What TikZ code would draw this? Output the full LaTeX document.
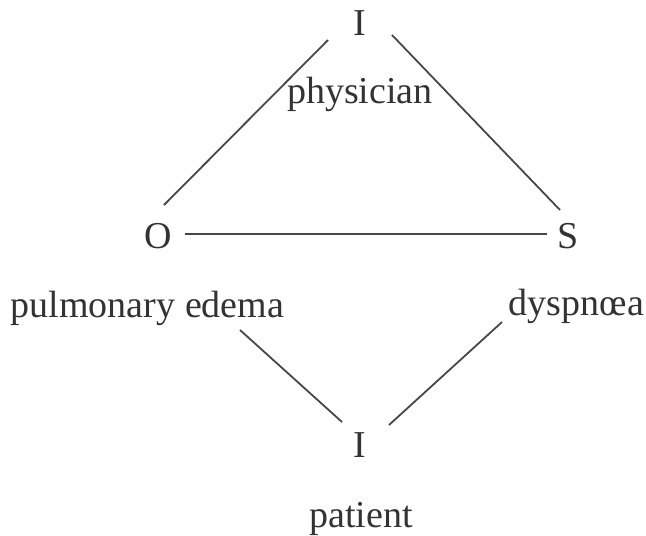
\documentclass[tikz,border=0pt]{standalone}
\usepackage{fontspec}
\setmainfont{Liberation Serif}

\begin{document}
\begin{tikzpicture}[
  x=1pt,y=-1pt,
  lbl/.style={anchor=base,inner sep=0pt,text=black!80,font=\fontsize{38}{40}\selectfont},
  link/.style={draw=black!72,line width=1.8pt}
]
\useasboundingbox (0,0) rectangle (646,536);
\node[lbl] (iphys) at (360,35) {I};
\node[lbl] (phys) at (360,103) {physician};
\node[lbl] (obj) at (158,248) {O};
\node[lbl] (sign) at (568.5,248) {S};
\node[lbl] (edema) at (147.5,317) {pulmonary edema};
\node[lbl] (dysp) at (576.5,315) {dyspnœa};
\node[lbl] (ipat) at (360,457) {I};
\node[lbl] (pat) at (361,527) {patient};
\draw[link] ([shift={(-32,5)}]iphys.base) -- ([shift={(6,-43)}]obj.base);
\draw[link] ([shift={(32,0)}]iphys.base) -- ([shift={(-8.5,-38)}]sign.base);
\draw[link] ([shift={(27,-14)}]obj.base) -- ([shift={(-21.5,-14)}]sign.base);
\draw[link] ([shift={(92.5,13)}]edema.base) -- ([shift={(-18,-35)}]ipat.base);
\draw[link] ([shift={(-74.5,7)}]dysp.base) -- ([shift={(29,-32)}]ipat.base);
\end{tikzpicture}
\end{document}
